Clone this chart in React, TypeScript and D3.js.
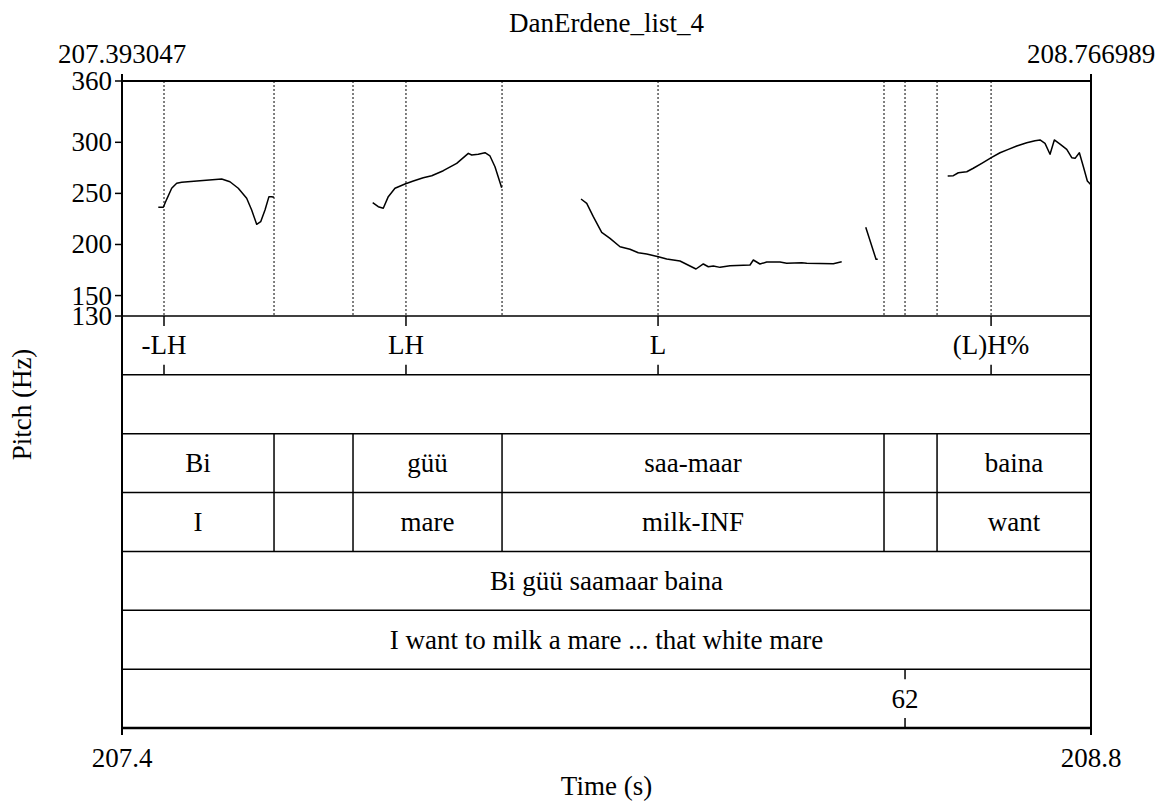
import React from "react";
import * as d3 from "d3";

// Time window and pitch range
const tStart = 207.393047;
const tEnd = 208.766989;
const fMin = 130;
const fMax = 360;
const pitchTicks = [130, 150, 200, 250, 300, 360];

// Pitch contour pieces [time (s), F0 (Hz)]
const pitchSeg1 = [
  [207.4445, 236.4], [207.4516, 236.4], [207.4564, 244.2], [207.4635, 255.0],
  [207.4706, 260.0], [207.4777, 260.9], [207.5036, 262.4], [207.5344, 264.1],
  [207.5461, 261.4], [207.5579, 255.0], [207.5698, 245.2], [207.5769, 233.7],
  [207.584, 219.7], [207.5897, 222.3], [207.5958, 233.7], [207.6014, 246.8],
  [207.6053, 246.8], [207.6085, 246.2],
];
const pitchSeg2 = [
  [207.7485, 240.9], [207.7564, 237.0], [207.7635, 235.4], [207.7706, 246.8],
  [207.7801, 255.0], [207.7943, 259.2], [207.8061, 262.1], [207.8202, 265.3],
  [207.8322, 267.3], [207.8486, 272.2], [207.8676, 279.4], [207.8841, 289.2],
  [207.8889, 287.6], [207.8982, 288.3], [207.9077, 289.8], [207.9148, 286.6],
  [207.9219, 276.1], [207.9314, 255.6],
];
const pitchSeg3 = [
  [208.0439, 244.5], [208.052, 240.3], [208.0613, 227.2], [208.0732, 211.9],
  [208.085, 206.0], [208.0992, 197.8], [208.1133, 195.3], [208.1251, 191.9],
  [208.137, 190.7], [208.1535, 188.0], [208.1654, 185.8], [208.1842, 183.8],
  [208.2069, 176.0], [208.2173, 180.9], [208.2244, 178.2], [208.2315, 178.9],
  [208.241, 177.6], [208.2551, 179.2], [208.2835, 179.9], [208.2882, 184.8],
  [208.2976, 180.9], [208.3072, 182.8], [208.326, 182.8], [208.3355, 181.6],
  [208.3568, 182.2], [208.3639, 181.6], [208.4016, 181.2], [208.4135, 183.1],
];
const pitchSeg4 = [
  [208.4476, 216.8], [208.4622, 185.5], [208.4646, 185.5],
];
const pitchSeg5 = [
  [208.5638, 267.0], [208.5718, 267.3], [208.5789, 270.2], [208.5908, 271.2],
  [208.6001, 274.6], [208.6121, 279.4], [208.6262, 285.3], [208.638, 289.8],
  [208.6498, 293.1], [208.6617, 296.4], [208.6759, 299.6], [208.6876, 301.6],
  [208.6947, 302.3], [208.7018, 299.0], [208.7089, 288.3], [208.715, 302.3],
  [208.7231, 298.3], [208.7326, 293.1], [208.7397, 284.9], [208.7444, 284.3],
  [208.7505, 289.8], [208.7562, 276.1], [208.7618, 262.1], [208.7671, 258.2],
];
const pitchSegments = [pitchSeg1, pitchSeg2, pitchSeg3, pitchSeg4, pitchSeg5];

// TextGrid tiers
const toneTimes = [207.4526, 207.7957, 208.1531, 208.6253];
const toneLabels = ["-LH", "LH", "L", "(L)H%"];
const wordBounds = [207.6086, 207.7206, 207.9319, 208.4735, 208.5487];
const wordLabels = ["Bi", "", "güü", "saa-maar", "", "baina"];
const glossLabels = ["I", "", "mare", "milk-INF", "", "want"];
const sentenceLabel = "Bi güü saamaar baina";
const translationLabel = "I want to milk a mare ... that white mare";
const indexTimes = [208.5033];
const indexLabels = ["62"];

const title = "DanErdene_list_4";
const bottomTickLabels = ["207.4", "208.8"];

const FONT = "'Liberation Serif', 'Times New Roman', serif";
const FS = 27;

const App = () => {
  const width = 1162;
  const height = 803;
  const left = 122;
  const right = 1091;
  const top = 81;
  const pitchBottom = 316;
  const tierCount = 7;
  const tierBottom = 728;
  const tierH = (tierBottom - pitchBottom) / tierCount;

  const xScale = d3.scaleLinear().domain([tStart, tEnd]).range([left, right]);
  const yScale = d3.scaleLinear().domain([fMin, fMax]).range([pitchBottom, top]);

  const line = d3
    .line<number[]>()
    .x((d) => xScale(d[0]))
    .y((d) => yScale(d[1]));

  const tierTop = (i: number) => pitchBottom + i * tierH;
  const tierMid = (i: number) => tierTop(i) + tierH / 2;

  // every boundary/point gets a dotted line through the pitch area
  const dottedTimes = [...toneTimes, ...wordBounds, ...indexTimes];

  const wordEdges = [tStart, ...wordBounds, tEnd];

  const txt = (x: number, y: number, s: string, anchor = "middle", key?: any) => (
    <text key={key} x={x} y={y} textAnchor={anchor} fontFamily={FONT} fontSize={FS} fill="#000">
      {s}
    </text>
  );

  return (
    <svg width={width} height={height} style={{ position: "absolute", left: 0, top: 0, background: "#fff" }}>
      <rect x={0} y={0} width={width} height={height} fill="#fff" />

      {/* title and top time labels */}
      {txt((left + right) / 2, 32, title)}
      {txt(left, 63, tStart.toFixed(6))}
      {txt(right, 63, tEnd.toFixed(6))}

      {/* dotted boundary lines in pitch area */}
      {dottedTimes.map((t, i) => (
        <line key={"dot" + i} x1={xScale(t)} x2={xScale(t)} y1={top} y2={pitchBottom}
          stroke="#000" strokeWidth={1} strokeDasharray="2,2" />
      ))}

      {/* pitch curve */}
      {pitchSegments.map((seg, i) => (
        <path key={"seg" + i} d={line(seg) || ""} fill="none" stroke="#000" strokeWidth={1.5} strokeLinejoin="round" />
      ))}

      {/* tier separators */}
      {d3.range(1, tierCount).map((i) => (
        <line key={"tier" + i} x1={left} x2={right} y1={tierTop(i)} y2={tierTop(i)} stroke="#000" strokeWidth={1.5} />
      ))}
      <line x1={left} x2={right} y1={pitchBottom} y2={pitchBottom} stroke="#000" strokeWidth={1.5} />

      {/* tier 1: tones (points) */}
      {toneTimes.map((t, i) => (
        <g key={"tone" + i}>
          <line x1={xScale(t)} x2={xScale(t)} y1={tierTop(0)} y2={tierTop(0) + 10} stroke="#000" strokeWidth={1.5} />
          <line x1={xScale(t)} x2={xScale(t)} y1={tierTop(1) - 10} y2={tierTop(1)} stroke="#000" strokeWidth={1.5} />
          {txt(xScale(t), tierMid(0) + 9, toneLabels[i])}
        </g>
      ))}

      {/* tiers 3 and 4: words and glosses */}
      {[2, 3].map((ti) => (
        <g key={"wt" + ti}>
          {wordBounds.map((t, i) => (
            <line key={"wb" + i} x1={xScale(t)} x2={xScale(t)} y1={tierTop(ti)} y2={tierTop(ti + 1)} stroke="#000" strokeWidth={1.5} />
          ))}
          {(ti === 2 ? wordLabels : glossLabels).map((s, i) =>
            s ? txt((xScale(wordEdges[i]) + xScale(wordEdges[i + 1])) / 2, tierMid(ti) + 9, s, "middle", "wl" + i) : null
          )}
        </g>
      ))}

      {/* tiers 5 and 6 */}
      {txt(xScale((tStart + tEnd) / 2), tierMid(4) + 9, sentenceLabel)}
      {txt(xScale((tStart + tEnd) / 2), tierMid(5) + 9, translationLabel)}

      {/* tier 7: index point */}
      {indexTimes.map((t, i) => (
        <g key={"idx" + i}>
          <line x1={xScale(t)} x2={xScale(t)} y1={tierTop(6)} y2={tierTop(6) + 10} stroke="#000" strokeWidth={1.5} />
          <line x1={xScale(t)} x2={xScale(t)} y1={tierBottom - 10} y2={tierBottom} stroke="#000" strokeWidth={1.5} />
          {txt(xScale(t), tierMid(6) + 9, indexLabels[i])}
        </g>
      ))}

      {/* outer frame */}
      <line x1={left} x2={right} y1={top} y2={top} stroke="#000" strokeWidth={2.2} />
      <line x1={left} x2={right} y1={tierBottom} y2={tierBottom} stroke="#000" strokeWidth={2.5} />
      <line x1={left} x2={left} y1={top - 7} y2={tierBottom + 7} stroke="#000" strokeWidth={2} />
      <line x1={right} x2={right} y1={top - 7} y2={tierBottom + 7} stroke="#000" strokeWidth={2} />

      {/* pitch axis */}
      {pitchTicks.map((v) => (
        <g key={"yt" + v}>
          <line x1={left - 7} x2={left} y1={yScale(v)} y2={yScale(v)} stroke="#000" strokeWidth={1.5} />
          {txt(left - 10, yScale(v) + 9, String(v), "end")}
        </g>
      ))}
      <text transform={`translate(31, ${(top + tierBottom) / 2}) rotate(-90)`} textAnchor="middle"
        fontFamily={FONT} fontSize={FS} fill="#000">Pitch (Hz)</text>

      {/* time axis */}
      {txt(left, 767, bottomTickLabels[0])}
      {txt(right, 767, bottomTickLabels[1])}
      {txt((left + right) / 2, 795, "Time (s)")}
    </svg>
  );
};

export default App;
